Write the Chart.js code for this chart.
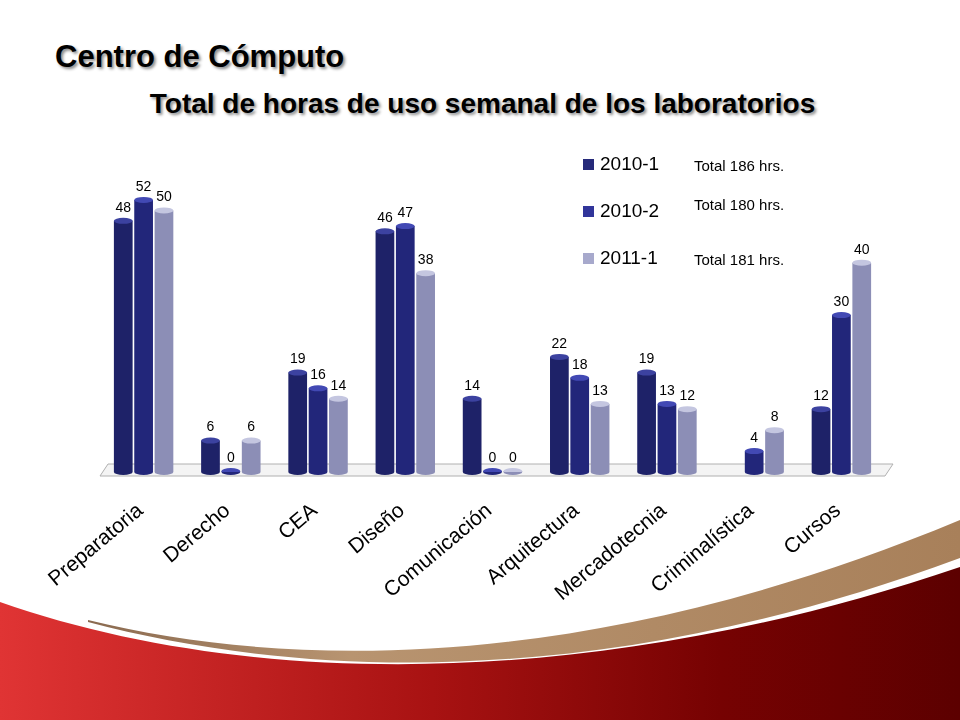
<!DOCTYPE html>
<html><head><meta charset="utf-8">
<script src="https://cdn.jsdelivr.net/npm/chart.js@4"></script>
<style>
html,body{margin:0;padding:0;width:960px;height:720px;overflow:hidden;font-family:"Liberation Sans",Arial,sans-serif;background:#fff;}
#t1{position:absolute;left:55px;top:39px;font-size:31px;font-weight:bold;color:#000;text-shadow:2px 2px 3px #8a8a8a;}
#t2{position:absolute;left:0;width:965px;top:88px;text-align:center;font-size:28px;font-weight:bold;color:#000;text-shadow:2px 2px 3px #8a8a8a;}
canvas,svg{position:absolute;left:0;top:0;}
</style></head><body>
<svg width="960" height="720">
<defs>
<linearGradient id="rg" x1="0" y1="0" x2="1" y2="0"><stop offset="0" stop-color="#e03434"/><stop offset="0.45" stop-color="#a81212"/><stop offset="0.75" stop-color="#760202"/><stop offset="1" stop-color="#5c0000"/></linearGradient>
<linearGradient id="tg" x1="0" y1="0" x2="1" y2="0"><stop offset="0" stop-color="#8a6a50"/><stop offset="0.3" stop-color="#b89470"/><stop offset="1" stop-color="#a8805a"/></linearGradient>
</defs>
<path d="M88,620 C300,672 600,670 960,520 L960,558 C600,692 300,678 88,622 Z" fill="url(#tg)"/>
<path d="M0,602 C250,690 600,690 960,567 L960,720 L0,720 Z" fill="url(#rg)"/>
</svg>
<div id="t1">Centro de Cómputo</div>
<div id="t2">Total de horas de uso semanal de los laboratorios</div>
<canvas id="c" width="960" height="720"></canvas>
<script>
const categories=["Preparatoria","Derecho","CEA","Diseño","Comunicación","Arquitectura","Mercadotecnia","Criminalística","Cursos"];
const s2010_1=[48,6,19,46,14,22,19,null,12];
const s2010_2=[52,0,16,47,0,18,13,4,30];
const s2011_1=[50,6,14,38,0,13,12,8,40];
const seriesNames=["2010-1","2010-2","2011-1"];
const totals=["Total 186 hrs.","Total 180 hrs.","Total 181 hrs."];
const baseCols=[["#1e2268","#3a3f9e","#1c2060"],["#22267a","#3f45b0","#20246e"],["#8c8eb6","#c2c4e0","#8a8cb2"]];
const capCols=["#3c42a0","#4249b4","#c4c6e0"];
const legendCols=["#262a7a","#31359a","#a7a9cc"];
function grad(ctx,i){
  const el=ctx.element; const c=ctx.chart.ctx;
  if(!el||!el.width) return baseCols[i][0];
  const x0=el.x-el.width/2,x1=el.x+el.width/2;
  const g=c.createLinearGradient(x0,0,x1,0);
  g.addColorStop(0,baseCols[i][0]);g.addColorStop(0.45,baseCols[i][1]);g.addColorStop(1,baseCols[i][2]);
  return g;
}
const extras={id:'extras',
 beforeDatasetsDraw(ch){
  const c=ch.ctx,a=ch.chartArea,b=ch.scales.y.getPixelForValue(0);
  c.save();c.fillStyle='#f4f4f4';c.strokeStyle='#b0b0b0';c.beginPath();
  c.moveTo(a.left+8,b-8);c.lineTo(a.right+8,b-8);c.lineTo(a.right,b+4);c.lineTo(a.left,b+4);c.closePath();c.fill();c.stroke();c.restore();
 },
 afterDatasetsDraw(ch){
  const c=ch.ctx;c.save();
  ch.data.datasets.forEach((ds,i)=>{
   ch.getDatasetMeta(i).data.forEach((el,j)=>{
    const v=ds.data[j]; if(v==null) return;
    const w=el.width;
    c.fillStyle=capCols[i];c.beginPath();c.ellipse(el.x,el.y,w/2,3,0,0,Math.PI*2);c.fill();
    c.fillStyle=baseCols[i][0];c.beginPath();c.ellipse(el.x,el.base,w/2,3,0,0,Math.PI);c.fill();
    c.fillStyle='#000';c.font='14px "Liberation Sans",Arial';c.textAlign='center';c.textBaseline='bottom';
    c.fillText(String(v),el.x,el.y-6);
   });
  });
  const xs=ch.scales.x;
  c.fillStyle='#000';c.font='21px "Liberation Sans",Arial';c.textAlign='right';c.textBaseline='top';
  categories.forEach((t,k)=>{
   const x=xs.getPixelForValue(k);
   c.save();c.translate(x-10,500);c.rotate(-40*Math.PI/180);c.fillText(t,0,0);c.restore();
  });
  seriesNames.forEach((n,i)=>{
   const y=165+i*47;
   c.fillStyle=legendCols[i];c.fillRect(583,y-6,11,11);
   c.fillStyle='#000';c.font='19px "Liberation Sans",Arial';c.textAlign='left';c.textBaseline='middle';c.fillText(n,600,y);
   c.font='15px "Liberation Sans",Arial';c.fillText(totals[i],694,y+(i==0?2:(i==1?-6:2)));
  });
  c.restore();
 }};
new Chart(document.getElementById('c'),{
 type:'bar',
 data:{labels:categories,datasets:[s2010_1,s2010_2,s2011_1].map((d,i)=>({label:seriesNames[i],data:d,backgroundColor:ctx=>grad(ctx,i),borderWidth:0,minBarLength:1,categoryPercentage:0.7,barPercentage:0.92}))},
 options:{responsive:false,animation:false,
  layout:{padding:{left:100,right:75,top:179,bottom:248}},
  plugins:{legend:{display:false},tooltip:{enabled:false}},
  scales:{x:{display:false},y:{display:false,min:0,max:56}}},
 plugins:[extras]});
</script></body></html>
